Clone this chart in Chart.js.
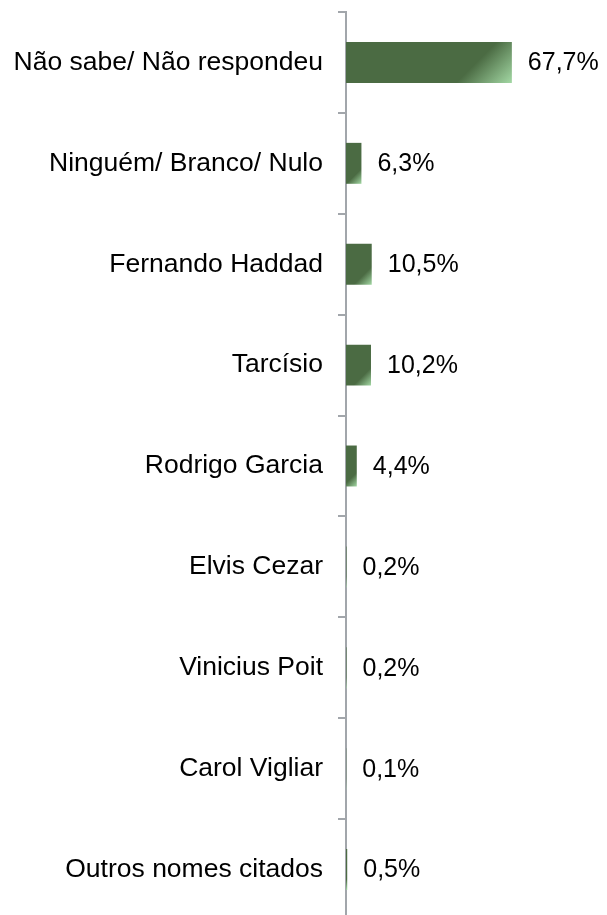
<!DOCTYPE html>
<html>
<head>
<meta charset="utf-8">
<script src="https://cdn.jsdelivr.net/npm/chart.js@4"></script>
<style>
  html, body { margin: 0; padding: 0; background: #fff; overflow: hidden; }
</style>
</head>
<body>
<canvas id="grafico" width="607" height="922"></canvas>
<script>
const categorias = [
    "Não sabe/ Não respondeu",
    "Ninguém/ Branco/ Nulo",
    "Fernando Haddad",
    "Tarcísio",
    "Rodrigo Garcia",
    "Elvis Cezar",
    "Vinicius Poit",
    "Carol Vigliar",
    "Outros nomes citados"
];
const valores = [67.7, 6.3, 10.5, 10.2, 4.4, 0.2, 0.2, 0.1, 0.5];

const verdeEscuro = "#4b6b43";
const verdeClaro = "#a3d8a4";
const cinzaEixo = "#a2a6ab";

Chart.defaults.font.family = "'Liberation Sans', Arial, sans-serif";
Chart.defaults.color = "#000";

// gradiente diagonal em cada barra (claro no canto inferior direito)
function corBarra(context) {
    const chart = context.chart;
    if (!chart.chartArea || !chart.scales.x || !chart.scales.y) return verdeEscuro;
    const xs = chart.scales.x, ys = chart.scales.y;
    const v = context.raw;
    const x0 = xs.getPixelForValue(0);
    const x1 = xs.getPixelForValue(v);
    const banda = ys.height / categorias.length;
    const h = banda * 0.406;
    const y0 = ys.getPixelForValue(context.dataIndex) - h / 2;
    const w = Math.max(1, x1 - x0);
    const d = (w + h) / 2;
    const g = chart.ctx.createLinearGradient(x0, y0, x0 + d, y0 + d);
    g.addColorStop(0, verdeEscuro);
    g.addColorStop(0.73, verdeEscuro);
    g.addColorStop(1, verdeClaro);
    return g;
}

const rotulosValores = {
    id: "rotulosValores",
    afterDatasetsDraw(chart) {
        const ctx = chart.ctx;
        const meta = chart.getDatasetMeta(0);
        ctx.save();
        ctx.font = "25px 'Liberation Sans', Arial, sans-serif";
        ctx.fillStyle = "#000";
        ctx.textAlign = "left";
        ctx.textBaseline = "middle";
        meta.data.forEach(function(barra, i) {
            const texto = valores[i].toFixed(1).replace(".", ",") + "%";
            ctx.fillText(texto, barra.x + 16, barra.y + 1);
        });
        ctx.restore();
    }
};

new Chart(document.getElementById("grafico").getContext("2d"), {
    type: "bar",
    data: {
        labels: categorias,
        datasets: [{
            data: valores,
            backgroundColor: corBarra,
            borderWidth: 0,
            categoryPercentage: 1,
            barPercentage: 0.406
        }]
    },
    options: {
        indexAxis: "y",
        responsive: false,
        animation: false,
        layout: { padding: { top: 12, bottom: 2, right: 16, left: 0 } },
        plugins: { legend: { display: false }, tooltip: { enabled: false } },
        scales: {
            x: {
                display: false,
                min: 0,
                max: 100
            },
            y: {
                afterFit: function(scale) {
                    scale.width = 346;
                    scale.paddingTop = 0;
                    scale.paddingBottom = 0;
                },
                border: { display: true, color: cinzaEixo, width: 2 },
                grid: {
                    offset: true,
                    drawOnChartArea: false,
                    drawTicks: true,
                    tickLength: 8,
                    color: cinzaEixo,
                    lineWidth: 2
                },
                ticks: {
                    padding: 15,
                    font: { size: 26.5 },
                    color: "#000"
                }
            }
        }
    },
    plugins: [rotulosValores]
});
</script>
</body>
</html>
